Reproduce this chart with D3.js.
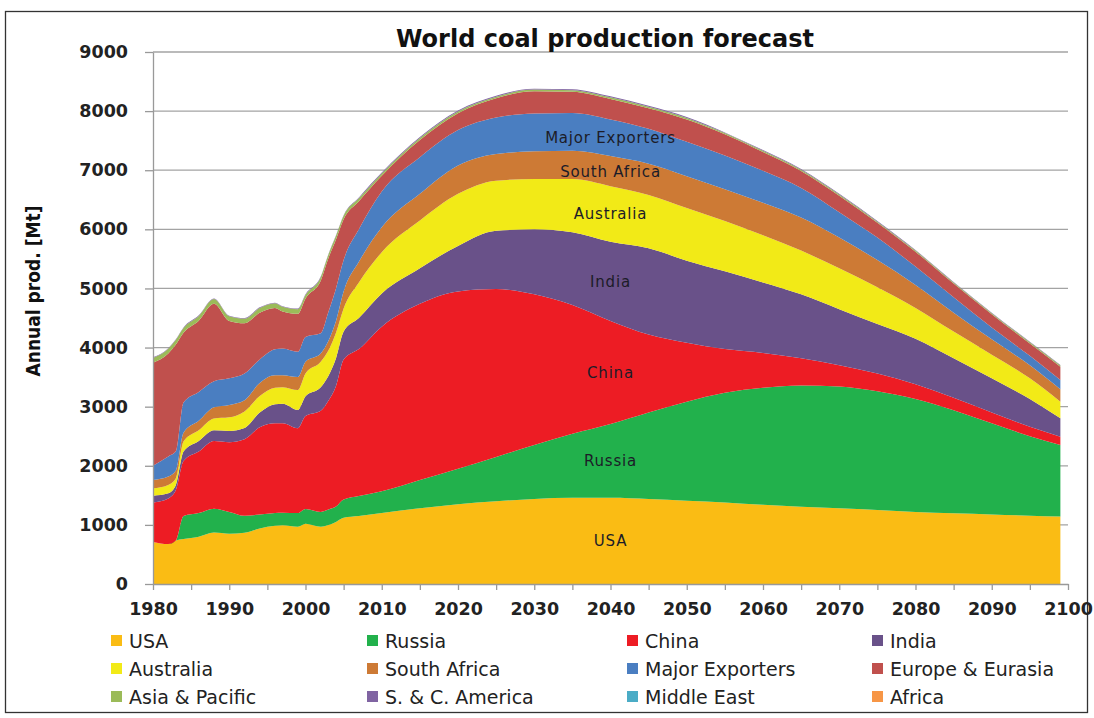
<!DOCTYPE html>
<html>
<head>
<meta charset="utf-8">
<script src="https://cdn.jsdelivr.net/npm/d3@7"></script>
<style>
    body { margin: 0; background: #fff; }
    svg { display: block; }
</style>
</head>
<body>
<svg width="1094" height="718"></svg>
<script>
// years (denser where the history is jagged)
var years = [1980, 1982, 1983, 1984, 1986, 1988, 1990, 1992, 1994, 1996, 1997, 1999, 2000, 2002, 2003, 2004, 2005, 2007, 2010,
    2015, 2020, 2025, 2030, 2035, 2040, 2045, 2050, 2055, 2060, 2065, 2070, 2075, 2080, 2085, 2090, 2095, 2099];

// annual production, Mt
var usa = [710, 675, 735, 760, 800, 870, 850, 865, 940, 985, 995, 970, 1020, 970, 1000, 1050, 1120, 1150, 1200,
    1280, 1350, 1400, 1440, 1460, 1460, 1440, 1410, 1380, 1340, 1305, 1280, 1250, 1220, 1195, 1175, 1155, 1140];
var russia = [0, 0, 0, 390, 400, 405, 370, 290, 235, 215, 210, 230, 250, 250, 260, 260, 310, 340, 370,
    480, 600, 750, 910, 1080, 1245, 1460, 1675, 1855, 1980, 2055, 2060, 2010, 1910, 1745, 1545, 1345, 1212];
var china = [670, 773, 855, 930, 1040, 1145, 1180, 1295, 1475, 1520, 1515, 1435, 1570, 1710, 1840, 2040, 2370, 2486, 2784,
    2980, 3000, 2840, 2550, 2180, 1745, 1320, 995, 740, 590, 460, 360, 300, 250, 210, 180, 160, 141];
var india = [114, 86, 86, 160, 180, 180, 190, 190, 250, 320, 330, 310, 335, 400, 420, 470, 470, 524, 560,
    600, 770, 987, 1100, 1230, 1340, 1460, 1390, 1315, 1190, 1080, 950, 840, 770, 670, 580, 470, 310];
var australia = [125, 142, 113, 170, 180, 200, 230, 280, 280, 280, 280, 335, 385, 430, 430, 430, 390, 600, 700,
    810, 880, 846, 850, 900, 940, 900, 890, 850, 800, 740, 690, 620, 520, 450, 400, 350, 282];
var southAfrica = [142, 142, 131, 150, 160, 190, 210, 190, 220, 210, 200, 220, 200, 140, 160, 200, 290, 350, 420,
    450, 480, 451, 470, 480, 510, 530, 540, 540, 550, 560, 520, 460, 390, 320, 260, 220, 209];
var majorExporters = [239, 340, 324, 510, 490, 440, 450, 450, 400, 440, 455, 430, 420, 340, 490, 550, 530, 550, 606,
    620, 600, 620, 640, 640, 620, 590, 580, 570, 540, 500, 430, 380, 310, 260, 200, 160, 158];
var europe = [1744, 1742, 1806, 1180, 1205, 1310, 970, 850, 790, 700, 625, 640, 650, 890, 910, 830, 690, 475, 265,
    290, 285, 323, 377, 357, 347, 347, 377, 358, 318, 288, 278, 252, 252, 232, 222, 210, 225];
var asiaPacific = [80, 80, 80, 80, 80, 80, 80, 80, 80, 80, 80, 80, 60, 60, 60, 60, 60, 50, 40,
    35, 30, 28, 28, 28, 28, 28, 28, 22, 22, 22, 22, 18, 18, 18, 18, 18, 18];
var scAmerica = [10, 10, 10, 10, 10, 10, 10, 10, 10, 10, 10, 10, 10, 10, 10, 10, 10, 15, 15,
    15, 15, 15, 15, 15, 15, 15, 15, 10, 10, 10, 10, 10, 10, 10, 10, 10, 10];
var middleEast = [0, 0, 0, 0, 0, 0, 0, 0, 0, 0, 0, 0, 0, 0, 0, 0, 0, 0, 0,
    0, 0, 0, 0, 0, 0, 0, 0, 0, 0, 0, 0, 0, 0, 0, 0, 0, 0];
var africa = [0, 0, 0, 0, 0, 0, 0, 0, 0, 0, 0, 0, 0, 0, 0, 0, 0, 0, 0,
    0, 0, 0, 0, 0, 0, 0, 0, 0, 0, 0, 0, 0, 0, 0, 0, 0, 0];

var names = ["USA", "Russia", "China", "India", "Australia", "South Africa", "Major Exporters",
    "Europe & Eurasia", "Asia & Pacific", "S. & C. America", "Middle East", "Africa"];
var colors = ["#FABC14", "#22B14C", "#ED1C24", "#695189", "#F2EA17", "#CD7A35", "#4A7EC1",
    "#C0504D", "#9BBB59", "#8064A2", "#4BACC6", "#F79646"];
var labelled = ["USA", "Russia", "China", "India", "Australia", "South Africa", "Major Exporters"];
var labelYear = 2040;

var yTicks = d3.range(0, 9001, 1000);
var xTicks = d3.range(1980, 2101, 5);

var series = [usa, russia, china, india, australia, southAfrica, majorExporters, europe,
    asiaPacific, scAmerica, middleEast, africa];

var rows = years.map(function (yr, i) {
    var r = { year: yr };
    names.forEach(function (n, k) { r[n] = series[k][i]; });
    return r;
});
var stacked = d3.stack().keys(names)(rows);

var svg = d3.select("svg");
var x = d3.scaleLinear().domain([1980, 2100]).range([153, 1068]);
var y = d3.scaleLinear().domain([0, 9000]).range([584, 52]);

var tickFont = "'DejaVu Sans', Verdana, sans-serif";
var narrowFont = "'DejaVu Sans Condensed', 'DejaVu Sans', sans-serif";

//frame
svg.append("rect")
    .attr("x", 5.5).attr("y", 11.5)
    .attr("width", 1082).attr("height", 701)
    .attr("fill", "none")
    .attr("stroke", "#333")
    .attr("stroke-width", 1.3);

//gridlines
svg.append("g")
    .selectAll("line")
    .data(yTicks.slice(1))
    .enter().append("line")
    .attr("x1", x(1980)).attr("x2", x(2100))
    .attr("y1", function (d) { return y(d); })
    .attr("y2", function (d) { return y(d); })
    .attr("stroke", "#a3a3a3")
    .attr("stroke-width", 1.3);

//stacked areas
var area = d3.area()
    .curve(d3.curveMonotoneX)
    .x(function (d) { return x(d.data.year); })
    .y0(function (d) { return y(d[0]); })
    .y1(function (d) { return y(d[1]); });

svg.append("g")
    .selectAll("path")
    .data(stacked)
    .enter().append("path")
    .attr("fill", function (d, i) { return colors[i]; })
    .attr("d", area);

//axes
var yAxis = svg.append("g")
    .attr("transform", "translate(" + x(1980) + ",0)")
    .call(d3.axisLeft(y).tickValues(yTicks).tickSize(8).tickSizeOuter(0).tickPadding(17)
        .tickFormat(d3.format("d")));
var xAxis = svg.append("g")
    .attr("transform", "translate(0," + y(0) + ")")
    .call(d3.axisBottom(x).tickValues(xTicks).tickSize(6).tickSizeOuter(0).tickPadding(13)
        .tickFormat(function (d) { return d % 10 === 0 ? d : ""; }));

[yAxis, xAxis].forEach(function (ax) {
    ax.select(".domain").attr("stroke", "#999").attr("stroke-width", 1.3);
    ax.selectAll(".tick line").attr("stroke", "#999").attr("stroke-width", 1.3);
    ax.selectAll(".tick text")
        .attr("fill", "#222")
        .style("font-family", tickFont)
        .style("font-size", "17.5px")
        .style("font-weight", "bold");
});

//titles
svg.append("text")
    .attr("x", 605).attr("y", 47)
    .attr("text-anchor", "middle")
    .attr("fill", "#111")
    .style("font-family", tickFont)
    .style("font-size", "24px")
    .style("font-weight", "bold")
    .text("World coal production forecast");

svg.append("text")
    .attr("transform", "translate(40,291) rotate(-90)")
    .attr("text-anchor", "middle")
    .attr("fill", "#111")
    .style("font-family", narrowFont)
    .style("font-stretch", "condensed")
    .style("font-size", "19px")
    .style("font-weight", "bold")
    .text("Annual prod. [Mt]");

//labels inside the bands, at the middle of each band
var li = years.indexOf(labelYear);
svg.append("g")
    .selectAll("text")
    .data(stacked.filter(function (s) { return labelled.indexOf(s.key) >= 0; }))
    .enter().append("text")
    .attr("x", x(labelYear))
    .attr("y", function (s) { return y((s[li][0] + s[li][1]) / 2); })
    .attr("dy", "0.36em")
    .attr("text-anchor", "middle")
    .attr("fill", "#1c1c28")
    .style("font-family", tickFont)
    .style("font-size", "15px")
    .style("letter-spacing", "0.8px")
    .text(function (s) { return s.key; });

//legend
var legendX = [111, 367, 627, 872];
var legendY = [641, 669, 697];
var legend = svg.append("g")
    .selectAll("g")
    .data(names)
    .enter().append("g")
    .attr("transform", function (d, i) {
        return "translate(" + legendX[i % 4] + "," + legendY[Math.floor(i / 4)] + ")";
    });
legend.append("rect")
    .attr("x", 0).attr("y", -6)
    .attr("width", 11).attr("height", 11)
    .attr("fill", function (d, i) { return colors[i]; });
legend.append("text")
    .attr("x", 18).attr("y", 6.5)
    .attr("fill", "#222")
    .style("font-family", tickFont)
    .style("font-size", "19px")
    .text(function (d) { return d; });
</script>
</body>
</html>
